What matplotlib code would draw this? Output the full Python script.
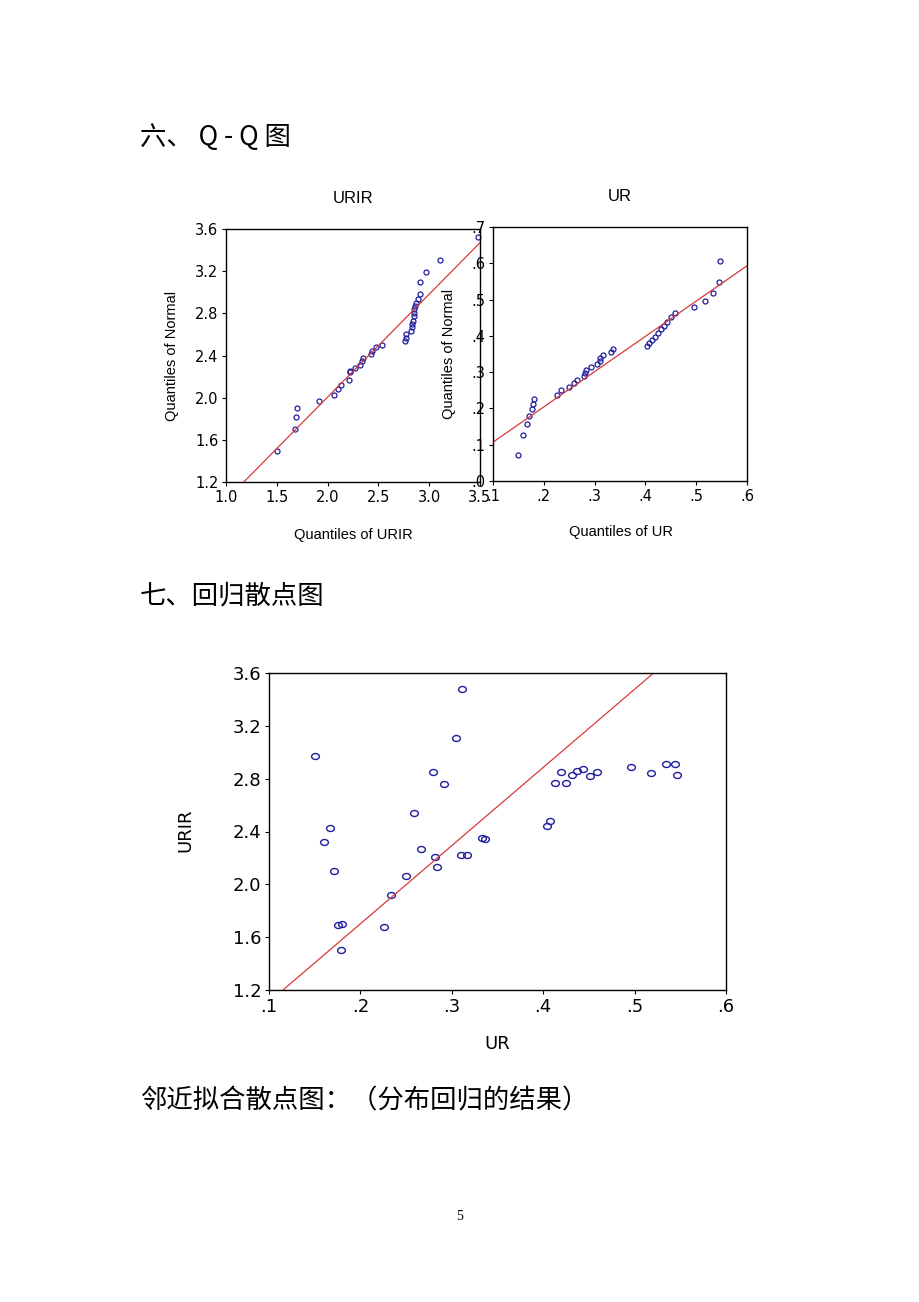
import matplotlib
matplotlib.use('Agg')
import matplotlib.pyplot as plt
from matplotlib.path import Path
from matplotlib.transforms import Affine2D

plt.rcParams['font.family'] = ['Liberation Sans', 'DejaVu Sans']

ur = [0.150, 0.167, 0.160, 0.171, 0.176, 0.180, 0.179, 0.226, 0.234, 0.250,
      0.259, 0.266, 0.279, 0.282, 0.284, 0.292, 0.305, 0.311, 0.310, 0.317,
      0.333, 0.336, 0.404, 0.407, 0.413, 0.419, 0.425, 0.431, 0.437, 0.443,
      0.451, 0.459, 0.496, 0.518, 0.534, 0.544, 0.546]
urir = [2.97, 2.43, 2.32, 2.10, 1.69, 1.70, 1.50, 1.68, 1.92, 2.06,
        2.54, 2.27, 2.85, 2.21, 2.13, 2.76, 3.11, 3.48, 2.22, 2.22,
        2.35, 2.34, 2.44, 2.48, 2.77, 2.85, 2.77, 2.83, 2.86, 2.87,
        2.82, 2.85, 2.89, 2.84, 2.91, 2.91, 2.83]

# quantiles of normal (y of the Q-Q plots), in order of the sorted data
qq_urir_norm = [1.49, 1.70, 1.82, 1.90, 1.97, 2.03, 2.08, 2.12, 2.17, 2.24,
                2.25, 2.28, 2.31, 2.35, 2.38, 2.41, 2.44, 2.48, 2.50, 2.54,
                2.57, 2.60, 2.63, 2.67, 2.70, 2.73, 2.77, 2.80, 2.84, 2.87,
                2.90, 2.94, 2.98, 3.10, 3.19, 3.31, 3.52]
qq_ur_norm = [0.073, 0.128, 0.157, 0.180, 0.198, 0.213, 0.227, 0.238, 0.250, 0.260,
              0.270, 0.279, 0.288, 0.297, 0.305, 0.313, 0.322, 0.331, 0.340, 0.346,
              0.355, 0.364, 0.373, 0.381, 0.389, 0.398, 0.408, 0.418, 0.428, 0.438,
              0.452, 0.464, 0.479, 0.497, 0.519, 0.549, 0.606]

# reference lines
qq1_line_x = [1.175, 3.5]
qq1_line_y = [1.2, 3.47]
qq2_line_x = [0.1, 0.6]
qq2_line_y = [0.107, 0.593]
reg_line_x = [0.1153, 0.5208]
reg_line_y = [1.2, 3.6]

# ticks
urir_ticks = [1.2, 1.6, 2.0, 2.4, 2.8, 3.2, 3.6]
urir_labels = ['1.2', '1.6', '2.0', '2.4', '2.8', '3.2', '3.6']
qq1_xticks = [1.0, 1.5, 2.0, 2.5, 3.0, 3.5]
qq1_xlabels = ['1.0', '1.5', '2.0', '2.5', '3.0', '3.5']
ur_ticks = [0.1, 0.2, 0.3, 0.4, 0.5, 0.6]
ur_labels = ['.1', '.2', '.3', '.4', '.5', '.6']
qq2_yticks = [0.0, 0.1, 0.2, 0.3, 0.4, 0.5, 0.6, 0.7]
qq2_ylabels = ['.0', '.1', '.2', '.3', '.4', '.5', '.6', '.7']

W, H = 920, 1302
BLUE = '#1f1f9e'
RED = '#d63a3a'
CJK = ['Noto Sans CJK SC', 'DejaVu Sans']

# slightly flattened circle, like the eviews scatter markers
oval = Affine2D().scale(1.3, 1.0).transform_path(Path.unit_circle())


def box(l, t, r, b):
    return [l / W, 1 - b / H, (r - l) / W, (b - t) / H]


def style(ax, size, tick_font):
    for s in ax.spines.values():
        s.set_linewidth(1.0)
        s.set_color('black')
    ax.tick_params(direction='out', length=3, width=0.8, top=False, right=False,
                   labelsize=size, pad=2.5)
    for lab in ax.get_xticklabels() + ax.get_yticklabels():
        lab.set_family(tick_font)


fig = plt.figure(figsize=(W / 100, H / 100), dpi=100)
fig.patch.set_facecolor('white')

# headings
fig.text(140 / W, 1 - 137 / H, '六、 Q - Q 图', family=CJK, fontsize=19, va='center')
fig.text(140 / W, 1 - 596 / H, '七、回归散点图', family=CJK, fontsize=19, va='center')
fig.text(140 / W, 1 - 1101 / H, '邻近拟合散点图：（分布回归的结果）', family=CJK, fontsize=19, va='center')
fig.text(460 / W, 1 - 1216 / H, '5', family='Liberation Serif', fontsize=10, ha='center', va='center')

# Q-Q plot of URIR
ax1 = fig.add_axes(box(226, 229, 480, 482))
ax1.plot(sorted(urir), qq_urir_norm, 'o', ms=3.6, mfc='none', mec=BLUE, mew=0.9, clip_on=False)
ax1.plot(qq1_line_x, qq1_line_y, color=RED, lw=0.9)
ax1.set_xlim(1.0, 3.5)
ax1.set_ylim(1.2, 3.6)
ax1.set_xticks(qq1_xticks, qq1_xlabels)
ax1.set_yticks(urir_ticks, urir_labels)
style(ax1, 10.5, 'DejaVu Sans')
ax1.text(0.5, 1.122, 'URIR', transform=ax1.transAxes, ha='center', va='center', fontsize=12)
ax1.set_xlabel('Quantiles of URIR', fontsize=10.5)
ax1.xaxis.set_label_coords(0.5, -0.18)
ax1.set_ylabel('Quantiles of Normal', fontsize=10.5)
ax1.yaxis.set_label_coords(-0.185, 0.5)

# Q-Q plot of UR
ax2 = fig.add_axes(box(493, 227, 747, 481))
ax2.plot(sorted(ur), qq_ur_norm, 'o', ms=3.6, mfc='none', mec=BLUE, mew=0.9)
ax2.plot(qq2_line_x, qq2_line_y, color=RED, lw=0.9)
ax2.set_xlim(0.1, 0.6)
ax2.set_ylim(0.0, 0.7)
ax2.set_xticks(ur_ticks, ur_labels)
ax2.set_yticks(qq2_yticks, qq2_ylabels)
style(ax2, 10.5, 'DejaVu Sans')
ax2.text(0.5, 1.122, 'UR', transform=ax2.transAxes, ha='center', va='center', fontsize=12)
ax2.set_xlabel('Quantiles of UR', fontsize=10.5)
ax2.xaxis.set_label_coords(0.504, -0.173)
ax2.set_ylabel('Quantiles of Normal', fontsize=10.5)
ax2.yaxis.set_label_coords(-0.146, 0.5)

# regression scatter
ax3 = fig.add_axes(box(269, 673, 726, 990))
ax3.plot(ur, urir, ls='none', marker=oval, ms=5.6, mfc='none', mec=BLUE, mew=1.0)
ax3.plot(reg_line_x, reg_line_y, color=RED, lw=0.9)
ax3.set_xlim(0.1, 0.6)
ax3.set_ylim(1.2, 3.6)
ax3.set_xticks(ur_ticks, ur_labels)
ax3.set_yticks(urir_ticks, urir_labels)
style(ax3, 13, 'DejaVu Sans')
ax3.set_xlabel('UR', fontsize=13, family='DejaVu Sans')
ax3.xaxis.set_label_coords(0.499, -0.142)
ax3.set_ylabel('URIR', fontsize=13, family='DejaVu Sans')
ax3.yaxis.set_label_coords(-0.164, 0.505)

fig.savefig('out.png', dpi=100, facecolor='white')
